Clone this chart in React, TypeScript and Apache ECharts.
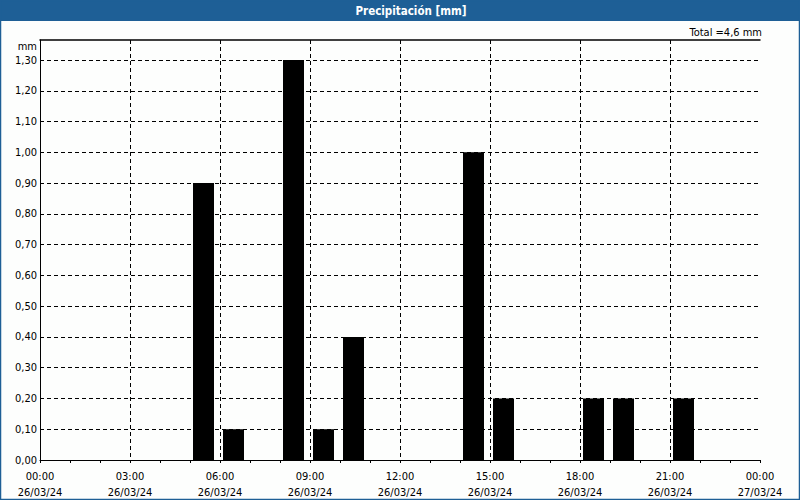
import React, { useEffect, useRef } from "react";
import * as echarts from "echarts";

const hours: number[] = [5, 6, 8, 9, 10, 14, 15, 18, 19, 21];
const precip: number[] = [0.9, 0.1, 1.3, 0.1, 0.4, 1.0, 0.2, 0.2, 0.2, 0.2];
const titleText = "Precipitación [mm]";
const totalText = "Total =4,6 mm";
const unitText = "mm";
const dayStart = "26/03/24";
const dayEnd = "27/03/24";

const FONT = "DejaVu Sans Condensed, DejaVu Sans, sans-serif";

export default function App() {
  const ref = useRef<HTMLDivElement>(null);
  useEffect(() => {
    document.body.style.margin = "0";
    const chart = echarts.init(ref.current!, null, { renderer: "svg" });
    const fmtX = (v: number) => {
      const h = Math.round(v) % 24;
      const hh = String(h).padStart(2, "0") + ":00";
      return hh + "\n" + (v >= 24 ? dayEnd : dayStart);
    };
    chart.setOption({
      animation: false,
      backgroundColor: "#fdfefd",
      textStyle: { fontFamily: FONT },
      graphic: [
        { type: "rect", z: -10, silent: true, shape: { x: 0, y: 0, width: 800, height: 21 }, style: { fill: "#1e5f96" } },
        { type: "rect", z: 100, silent: true, shape: { x: 0.5, y: 0.5, width: 799, height: 499 }, style: { fill: "none", stroke: "#1e5f96", lineWidth: 1.5 } },
        { type: "text", x: 411, y: 10.5, z: 10, style: { text: titleText, textAlign: "center", textVerticalAlign: "middle", fontSize: 11.5, fontWeight: "bold", fontFamily: FONT, fill: "#ffffff" } },
        { type: "text", x: 762, y: 32, style: { text: totalText, textAlign: "right", textVerticalAlign: "middle", fontSize: 11, fontFamily: FONT, fill: "#000" } },
        { type: "text", x: 37, y: 46, style: { text: unitText, textAlign: "right", textVerticalAlign: "middle", fontSize: 11, fontFamily: FONT, fill: "#000" } },
      ],
      grid: { left: 40, right: 40, top: 40, bottom: 40 },
      xAxis: [
        {
          type: "value",
          min: 0,
          max: 24,
          interval: 3,
          axisLine: { show: true, lineStyle: { color: "#000", width: 1 } },
          axisTick: { show: true, length: 3, lineStyle: { color: "#000" } },
          minorTick: { show: true, splitNumber: 3, length: 3, lineStyle: { color: "#000" } },
          axisLabel: {
            formatter: fmtX,
            color: "#000",
            fontSize: 11,
            fontFamily: FONT,
            margin: 8,
            lineHeight: 16,
          },
          splitLine: {
            show: true,
            showMinLine: false,
            showMaxLine: false,
            lineStyle: { color: "#000", type: [4, 3], width: 1 },
          },
        },
        {
          type: "value",
          position: "top",
          min: 0,
          max: 24,
          axisLine: { show: true, onZero: false, lineStyle: { color: "#000", width: 1.5 } },
          axisTick: { show: false },
          axisLabel: { show: false },
          splitLine: { show: false },
        },
      ],
      yAxis: {
        type: "value",
        min: 0,
        max: 1.365,
        interval: 0.1,
        axisLine: { show: true, lineStyle: { color: "#000", width: 1 } },
        axisTick: { show: false },
        axisLabel: {
          showMaxLabel: false,
          color: "#000",
          fontSize: 11,
          fontFamily: FONT,
          margin: 3,
          formatter: (v: number) => v.toFixed(2).replace(".", ","),
        },
        splitLine: {
          show: true,
          showMinLine: false,
          showMaxLine: false,
          lineStyle: { color: "#000", type: [4, 3], width: 1 },
        },
      },
      series: [
        {
          type: "bar",
          xAxisIndex: 0,
          barWidth: 21,
          itemStyle: { color: "#000" },
          data: hours.map((h, i) => [h + 0.45, precip[i]]),
        },
      ],
    });
    return () => chart.dispose();
  }, []);
  return <div ref={ref} style={{ width: 800, height: 500 }} />;
}
